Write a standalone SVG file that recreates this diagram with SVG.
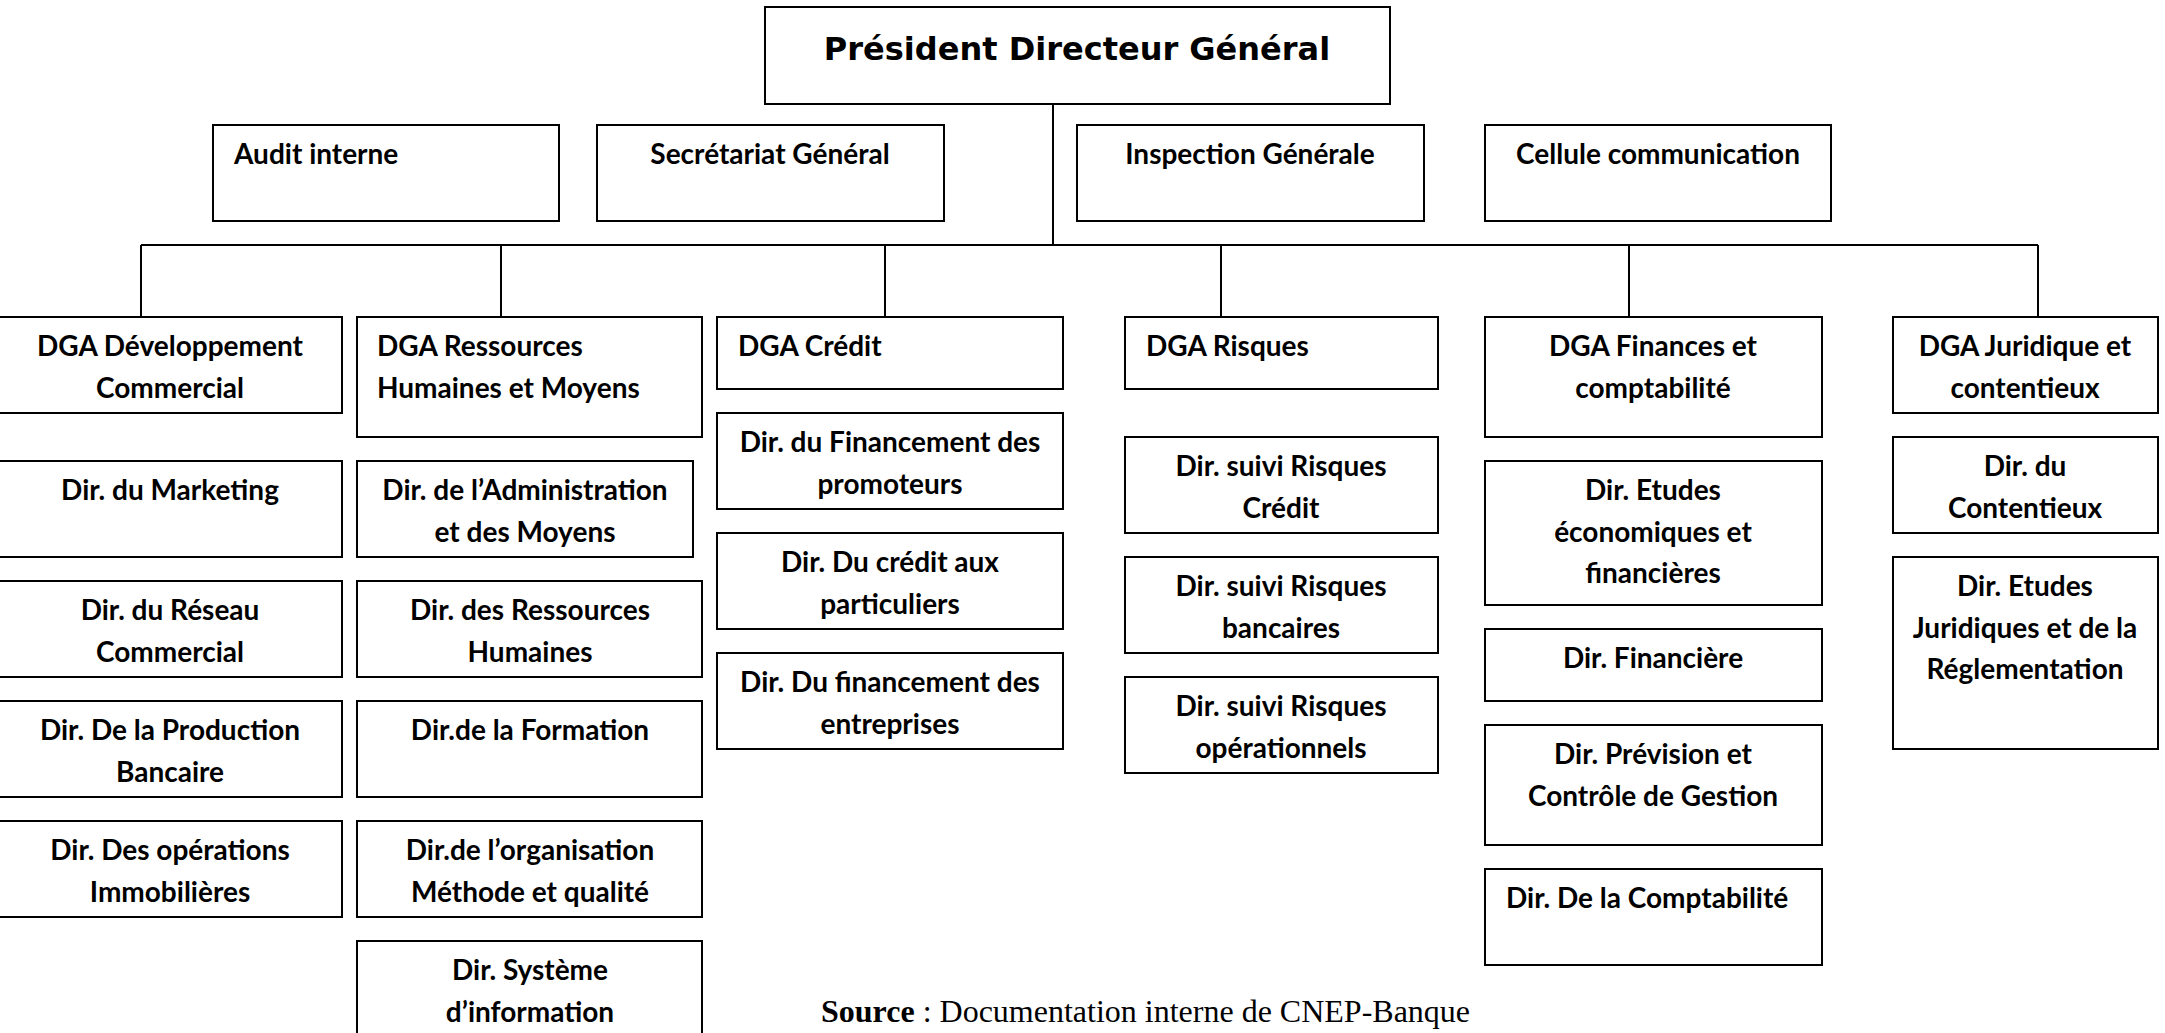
<svg xmlns="http://www.w3.org/2000/svg" width="2165" height="1033" viewBox="0 0 2165 1033">
<style>
.box{fill:#fff;stroke:#000;stroke-width:2}
.t{font-family:Lato,"Liberation Sans",sans-serif;font-weight:700;font-size:28px;fill:#000}
.c{text-anchor:middle}
.conn{stroke:#000;stroke-width:2;fill:none}
.title{font-family:"DejaVu Sans",sans-serif;font-weight:700;font-size:32px;fill:#000;text-anchor:middle}
.src{font-family:"Liberation Serif",serif;font-size:32px;fill:#000}
</style>
<rect x="0" y="0" width="2165" height="1033" fill="#fff"/>
<g id="connectors">
<path class="conn" d="M1053,104 V245"/>
<path class="conn" d="M141,245 H2038"/>
<path class="conn" d="M141,245 V317 M501,245 V317 M885,245 V317 M1221,245 V317 M1629,245 V317 M2038,245 V317"/>
</g>
<g id="pdg"><rect class="box" x="765" y="7" width="625" height="97"/><text class="title" x="1077" y="60">Président Directeur Général</text></g>
<g id="audit"><rect class="box" x="213" y="125" width="346" height="96"/><text class="t" x="234" y="164">Audit interne</text></g>
<g id="secretariat"><rect class="box" x="597" y="125" width="347" height="96"/><text class="t c" x="770" y="164">Secrétariat Général</text></g>
<g id="inspection"><rect class="box" x="1077" y="125" width="347" height="96"/><text class="t c" x="1250" y="164">Inspection Générale</text></g>
<g id="cellule"><rect class="box" x="1485" y="125" width="346" height="96"/><text class="t c" x="1658" y="164">Cellule communication</text></g>

<g id="dga-dev"><rect class="box" x="-4" y="317" width="346" height="96"/><text class="t c" x="170" y="356">DGA Développement</text><text class="t c" x="170" y="397.5">Commercial</text></g>
<g id="dga-rh"><rect class="box" x="357" y="317" width="345" height="120"/><text class="t" x="377" y="356">DGA Ressources</text><text class="t" x="377" y="397.5">Humaines et Moyens</text></g>
<g id="dga-credit"><rect class="box" x="717" y="317" width="346" height="72"/><text class="t" x="738" y="356">DGA Crédit</text></g>
<g id="dga-risques"><rect class="box" x="1125" y="317" width="313" height="72"/><text class="t" x="1146" y="356">DGA Risques</text></g>
<g id="dga-finances"><rect class="box" x="1485" y="317" width="337" height="120"/><text class="t c" x="1653" y="356">DGA Finances et</text><text class="t c" x="1653" y="397.5">comptabilité</text></g>
<g id="dga-juridique"><rect class="box" x="1893" y="317" width="265" height="96"/><text class="t c" x="2025" y="356">DGA Juridique et</text><text class="t c" x="2025" y="397.5">contentieux</text></g>

<g id="dir-marketing"><rect class="box" x="-4" y="461" width="346" height="96"/><text class="t c" x="170" y="500">Dir. du Marketing</text></g>
<g id="dir-reseau"><rect class="box" x="-4" y="581" width="346" height="96"/><text class="t c" x="170" y="620">Dir. du Réseau</text><text class="t c" x="170" y="661.5">Commercial</text></g>
<g id="dir-production"><rect class="box" x="-4" y="701" width="346" height="96"/><text class="t c" x="170" y="740">Dir. De la Production</text><text class="t c" x="170" y="781.5">Bancaire</text></g>
<g id="dir-operations"><rect class="box" x="-4" y="821" width="346" height="96"/><text class="t c" x="170" y="860">Dir. Des opérations</text><text class="t c" x="170" y="901.5">Immobilières</text></g>

<g id="dir-administration"><rect class="box" x="357" y="461" width="336" height="96"/><text class="t c" x="525" y="500">Dir. de l’Administration</text><text class="t c" x="525" y="541.5">et des Moyens</text></g>
<g id="dir-rh"><rect class="box" x="357" y="581" width="345" height="96"/><text class="t c" x="530" y="620">Dir. des Ressources</text><text class="t c" x="530" y="661.5">Humaines</text></g>
<g id="dir-formation"><rect class="box" x="357" y="701" width="345" height="96"/><text class="t c" x="530" y="740">Dir.de la Formation</text></g>
<g id="dir-organisation"><rect class="box" x="357" y="821" width="345" height="96"/><text class="t c" x="530" y="860">Dir.de l’organisation</text><text class="t c" x="530" y="901.5">Méthode et qualité</text></g>
<g id="dir-systeme"><rect class="box" x="357" y="941" width="345" height="110"/><text class="t c" x="530" y="980">Dir. Système</text><text class="t c" x="530" y="1021.5">d’information</text></g>

<g id="dir-promoteurs"><rect class="box" x="717" y="413" width="346" height="96"/><text class="t c" x="890" y="452">Dir. du Financement des</text><text class="t c" x="890" y="493.5">promoteurs</text></g>
<g id="dir-particuliers"><rect class="box" x="717" y="533" width="346" height="96"/><text class="t c" x="890" y="572">Dir. Du crédit aux</text><text class="t c" x="890" y="613.5">particuliers</text></g>
<g id="dir-entreprises"><rect class="box" x="717" y="653" width="346" height="96"/><text class="t c" x="890" y="692">Dir. Du financement des</text><text class="t c" x="890" y="733.5">entreprises</text></g>

<g id="dir-risques-credit"><rect class="box" x="1125" y="437" width="313" height="96"/><text class="t c" x="1281" y="476">Dir. suivi Risques</text><text class="t c" x="1281" y="517.5">Crédit</text></g>
<g id="dir-risques-bancaires"><rect class="box" x="1125" y="557" width="313" height="96"/><text class="t c" x="1281" y="596">Dir. suivi Risques</text><text class="t c" x="1281" y="637.5">bancaires</text></g>
<g id="dir-risques-operationnels"><rect class="box" x="1125" y="677" width="313" height="96"/><text class="t c" x="1281" y="716">Dir. suivi Risques</text><text class="t c" x="1281" y="757.5">opérationnels</text></g>

<g id="dir-etudes-eco"><rect class="box" x="1485" y="461" width="337" height="144"/><text class="t c" x="1653" y="500">Dir. Etudes</text><text class="t c" x="1653" y="541.5">économiques et</text><text class="t c" x="1653" y="583">financières</text></g>
<g id="dir-financiere"><rect class="box" x="1485" y="629" width="337" height="72"/><text class="t c" x="1653" y="668">Dir. Financière</text></g>
<g id="dir-prevision"><rect class="box" x="1485" y="725" width="337" height="120"/><text class="t c" x="1653" y="764">Dir. Prévision et</text><text class="t c" x="1653" y="805.5">Contrôle de Gestion</text></g>
<g id="dir-comptabilite"><rect class="box" x="1485" y="869" width="337" height="96"/><text class="t" x="1506" y="908">Dir. De la Comptabilité</text></g>

<g id="dir-contentieux"><rect class="box" x="1893" y="437" width="265" height="96"/><text class="t c" x="2025" y="476">Dir. du</text><text class="t c" x="2025" y="517.5">Contentieux</text></g>
<g id="dir-etudes-juridiques"><rect class="box" x="1893" y="557" width="265" height="192"/><text class="t c" x="2025" y="596">Dir. Etudes</text><text class="t c" x="2025" y="637.5">Juridiques et de la</text><text class="t c" x="2025" y="679">Réglementation</text></g>

<text class="src" x="821" y="1022"><tspan font-weight="700">Source</tspan> : Documentation interne de CNEP-Banque</text>
</svg>
